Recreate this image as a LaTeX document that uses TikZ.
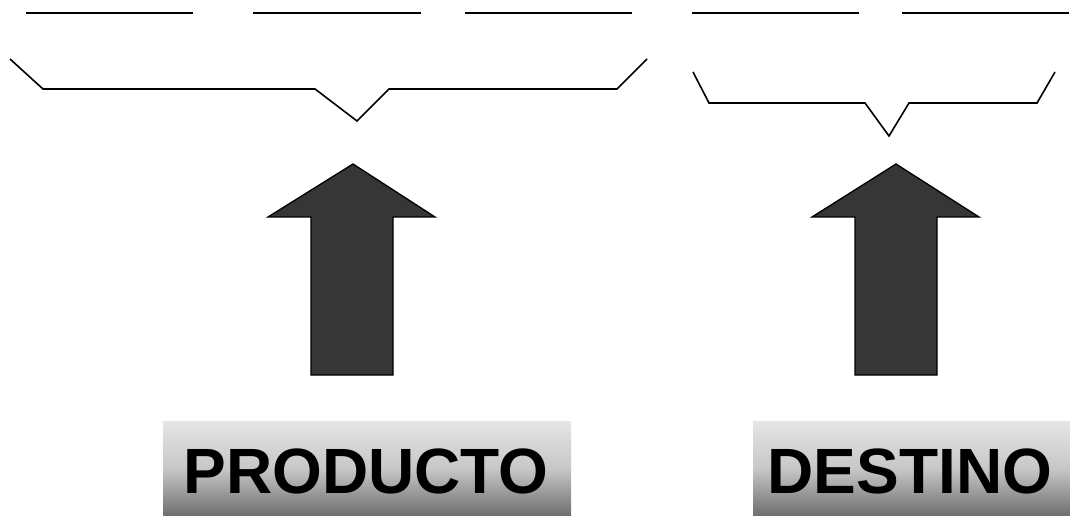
\documentclass[tikz,border=0pt]{standalone}
\usepackage{fontspec}
\setmainfont{Liberation Sans}
\usepackage{tikz}
\usetikzlibrary{positioning}
\usepackage{xcolor}
\definecolor{arrowfill}{HTML}{363636}

\begin{document}
\begin{tikzpicture}[x=0.75pt, y=-0.75pt,
    blank/.style={line width=1.2pt},
    brace/.style={line width=1.2pt, line join=miter},
    bigarrow/.style={fill=arrowfill, draw=black, line width=1pt},
    labelbox/.style={inner sep=0pt, top color=black!10, bottom color=black!57, middle color=black!22},
    labeltext/.style={font=\fontsize{48}{58}\bfseries, anchor=base}]
    \useasboundingbox (0,0) rectangle (1070,516);

    \draw[blank] (26,13) -- (193,13);
    \draw[blank] (253,13) -- (421,13);
    \draw[blank] (465,13) -- (632,13);
    \draw[blank] (692,13) -- (859,13);
    \draw[blank] (902,13) -- (1069,13);

    \draw[brace] (10,59) -- (43,89) -- (315,89) -- (357,121) -- (389,89) -- (617,89) -- (647,59);
    \draw[brace] (693,72) -- (709,103) -- (865,103) -- (889,136) -- (909,103) -- (1037,103) -- (1055,72);

    \draw[bigarrow] (353,164) -- (435,217) -- (393,217) -- (393,375) -- (311,375) -- (311,217) -- (268,217) -- cycle;
    \draw[bigarrow] (896,164) -- (979,217) -- (937,217) -- (937,375) -- (855,375) -- (855,217) -- (812,217) -- cycle;

    \shade[labelbox] (163,421) rectangle (571,516);
    \shade[labelbox] (753,421) rectangle (1070,516);
    \node[labeltext] (producto) at (366,493) {PRODUCTO};
    \node[labeltext] (destino) at (910,493) {DESTINO};
\end{tikzpicture}
\end{document}
